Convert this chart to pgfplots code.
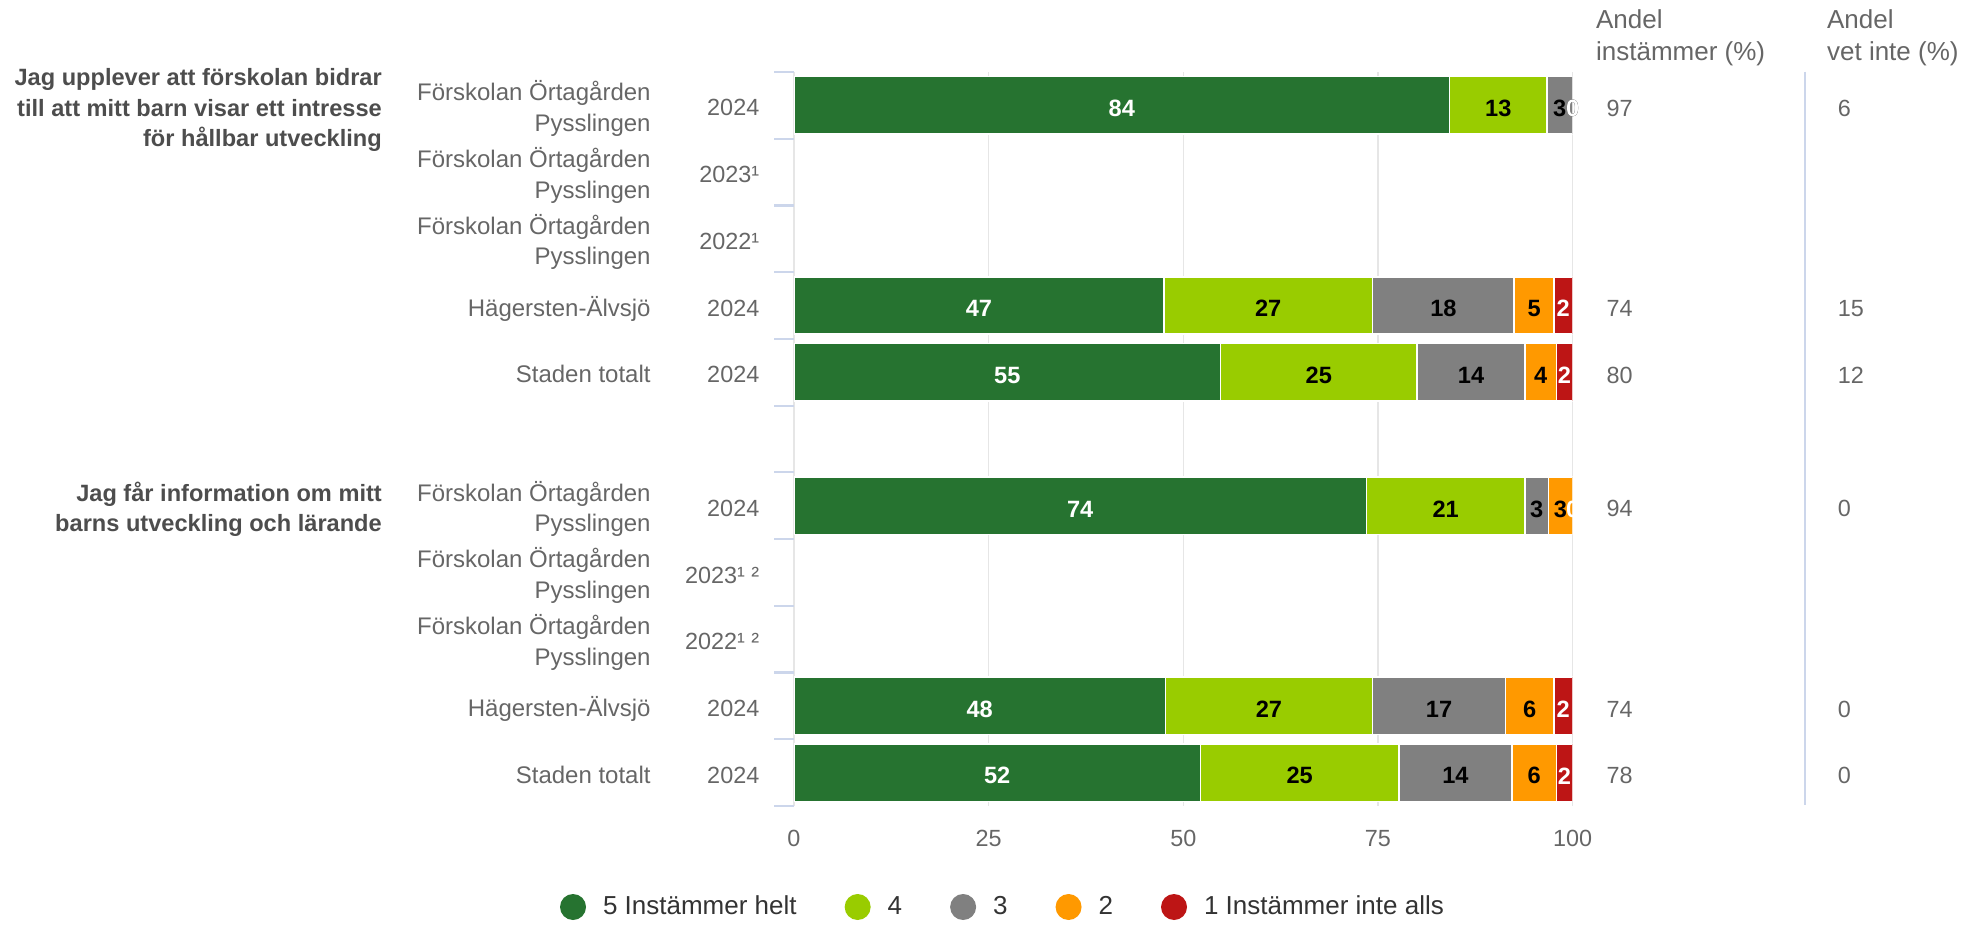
\documentclass[border=0pt]{standalone}
\usepackage{fontspec}
\setmainfont{Liberation Sans}
\usepackage{array}
\usepackage{pgfplots}
\usepackage{pgfplotstable}
\pgfplotsset{compat=1.18}
\definecolor{dgreen}{HTML}{267330}
\definecolor{lgreen}{HTML}{99CC00}
\definecolor{mgray}{HTML}{808080}
\definecolor{orng}{HTML}{FF9900}
\definecolor{dred}{HTML}{BD1515}
\definecolor{tickblue}{HTML}{CCD6EB}
\definecolor{gridgray}{HTML}{E6E6E6}
\definecolor{labgray}{HTML}{666666}
\definecolor{qgray}{HTML}{4D4D4D}
\definecolor{legtext}{HTML}{333333}

\pgfplotstableread{
y a b c d e la lb lc ld le inst vet
1 84.2 12.5 3.3 0 0 84 13 3 0 0 97 6
4 47.5 26.8 18.2 5.1 2.4 47 27 18 5 2 74 15
5 54.8 25.2 13.9 4.0 2.1 55 25 14 4 2 80 12
7 73.5 20.4 3.0 3.1 0 74 21 3 3 0 94 0
10 47.7 26.6 17.1 6.2 2.4 48 27 17 6 2 74 0
11 52.2 25.5 14.5 5.7 2.1 52 25 14 6 2 78 0
}\data

\newcommand{\lab}[3]{%
\begin{tabular}{@{}>{\bfseries\color{qgray}\fontsize{11.8}{15}\selectfont}r@{}}#1\end{tabular}%
\makebox[134.4pt][r]{\begin{tabular}{@{}r@{}}#2\end{tabular}}%
\makebox[54.35pt][r]{\fontsize{11.7}{15.3}\selectfont #3}}
\newcommand{\fop}{Förskolan Örtagården\\Pysslingen}

\pgfplotsset{circlegend/.style={legend image code/.code={\fill[##1,draw=none] (6.5pt,0pt) circle[radius=6.5pt];}}}

\begin{document}
\begin{tikzpicture}
\useasboundingbox (0,0) rectangle (984pt,462.5pt);
\begin{axis}[
  at={(397pt,59.5pt)}, anchor=south west,
  width=389.3pt, height=367pt, scale only axis,
  xbar stacked, bar width=0.86,
  xmin=0, xmax=100, ymin=0.5, ymax=11.5, y dir=reverse,
  xtick={0,25,50,75,100},
  xmajorgrids=true, grid style={draw=gridgray, line width=0.8pt},
  axis line style={draw=none},
  ytick={1,2,...,11},
  minor ytick={0.5,1.5,...,11.5},
  major tick length=0pt, minor tick length=10pt, tick align=outside,
  ytick pos=left, xtick pos=bottom,
  ytick style={draw=tickblue, line width=1.1pt},
  xtick style={draw=none},
  /pgf/number format/assume math mode=true,
  xticklabel style={anchor=north, inner sep=0pt, yshift=-12pt, font=\fontsize{11.7}{14}\selectfont, text=labgray},
  yticklabel style={anchor=east, inner sep=0pt, xshift=-17.15pt, yshift=-2.3pt, font=\fontsize{12}{15.3}\selectfont, text=labgray},
  yticklabels={
    {\lab{Jag upplever att förskolan bidrar\\till att mitt barn visar ett intresse\\för hållbar utveckling}{\fop}{2024}},
    {\lab{}{\fop}{2023¹}},
    {\lab{}{\fop}{2022¹}},
    {\lab{}{Hägersten-Älvsjö}{2024}},
    {\lab{}{Staden totalt}{2024}},
    {},
    {\lab{Jag får information om mitt\\barns utveckling och lärande}{\fop}{2024}},
    {\lab{}{\fop}{2023¹ ²}},
    {\lab{}{\fop}{2022¹ ²}},
    {\lab{}{Hägersten-Älvsjö}{2024}},
    {\lab{}{Staden totalt}{2024}}
  },
  legend columns=-1,
  legend style={at={(axis description cs:0.2671,-0.1376)}, anchor=center, draw=none, fill=none,
    font=\fontsize{13}{15}\selectfont, text=legtext, nodes={inner sep=0pt},
    /tikz/every odd column/.append style={column sep=8.5pt},
    /tikz/every even column/.append style={column sep=24pt}},
]
\addplot[fill=dgreen, draw=white, line width=0.75pt, circlegend] table[x=a, y=y] {\data};
\addplot[fill=lgreen, draw=white, line width=0.75pt, circlegend] table[x=b, y=y] {\data};
\addplot[fill=mgray, draw=white, line width=0.75pt, circlegend] table[x=c, y=y] {\data};
\addplot[fill=orng, draw=white, line width=0.75pt, circlegend] table[x=d, y=y] {\data};
\addplot[fill=dred, draw=white, line width=0.75pt, circlegend] table[x=e, y=y] {\data};
\legend{5 Instämmer helt, 4, 3, 2, 1 Instämmer inte alls}
\end{axis}
\begin{axis}[
  at={(397pt,59.5pt)}, anchor=south west,
  width=389.3pt, height=367pt, scale only axis,
  xmin=0, xmax=100, ymin=0.5, ymax=11.5, y dir=reverse,
  hide axis, clip=false,
  nodes near coords, point meta=explicit symbolic,
  every node near coord/.append style={anchor=center, inner sep=0pt, yshift=-1.6pt, font=\bfseries\fontsize{11.8}{14}\selectfont},
]
\addplot[draw=none, mark=none, every node near coord/.append style={text=white}] table[x expr=\thisrow{a}/2, y=y, meta=la] {\data};
\addplot[draw=none, mark=none, every node near coord/.append style={text=black}] table[x expr=\thisrow{a}+\thisrow{b}/2, y=y, meta=lb] {\data};
\addplot[draw=none, mark=none, every node near coord/.append style={text=black}] table[x expr=\thisrow{a}+\thisrow{b}+\thisrow{c}/2, y=y, meta=lc] {\data};
\addplot[draw=none, mark=none, every node near coord/.append style={text=black}] table[x expr=\thisrow{a}+\thisrow{b}+\thisrow{c}+\thisrow{d}/2, y=y, meta=ld] {\data};
\addplot[draw=none, mark=none, every node near coord/.append style={text=white}] table[x expr=\thisrow{a}+\thisrow{b}+\thisrow{c}+\thisrow{d}+\thisrow{e}/2, y=y, meta=le] {\data};
\addplot[draw=none, mark=none, every node near coord/.append style={anchor=west, text=labgray, font=\fontsize{11.7}{14}\selectfont}] table[x expr=104.3, y=y, meta=inst] {\data};
\addplot[draw=none, mark=none, every node near coord/.append style={anchor=west, text=labgray, font=\fontsize{11.7}{14}\selectfont}] table[x expr=134.0, y=y, meta=vet] {\data};
\end{axis}
\begin{scope}[x=0.5pt, y=-0.5pt, shift={(0pt,462.5pt)}]
\draw[tickblue, line width=1pt] (1805,71.7) -- (1805,805);
\begin{scope}[every node/.style={anchor=base west, inner sep=0pt, font=\fontsize{13}{16}\selectfont, text=labgray}]
\node at (1595.7,28.3) {Andel};
\node at (1595.7,61) {instämmer (\%)};
\node at (1826.7,28.3) {Andel};
\node at (1826.7,61) {vet inte (\%)};
\end{scope}
\end{scope}
\end{tikzpicture}
\end{document}
